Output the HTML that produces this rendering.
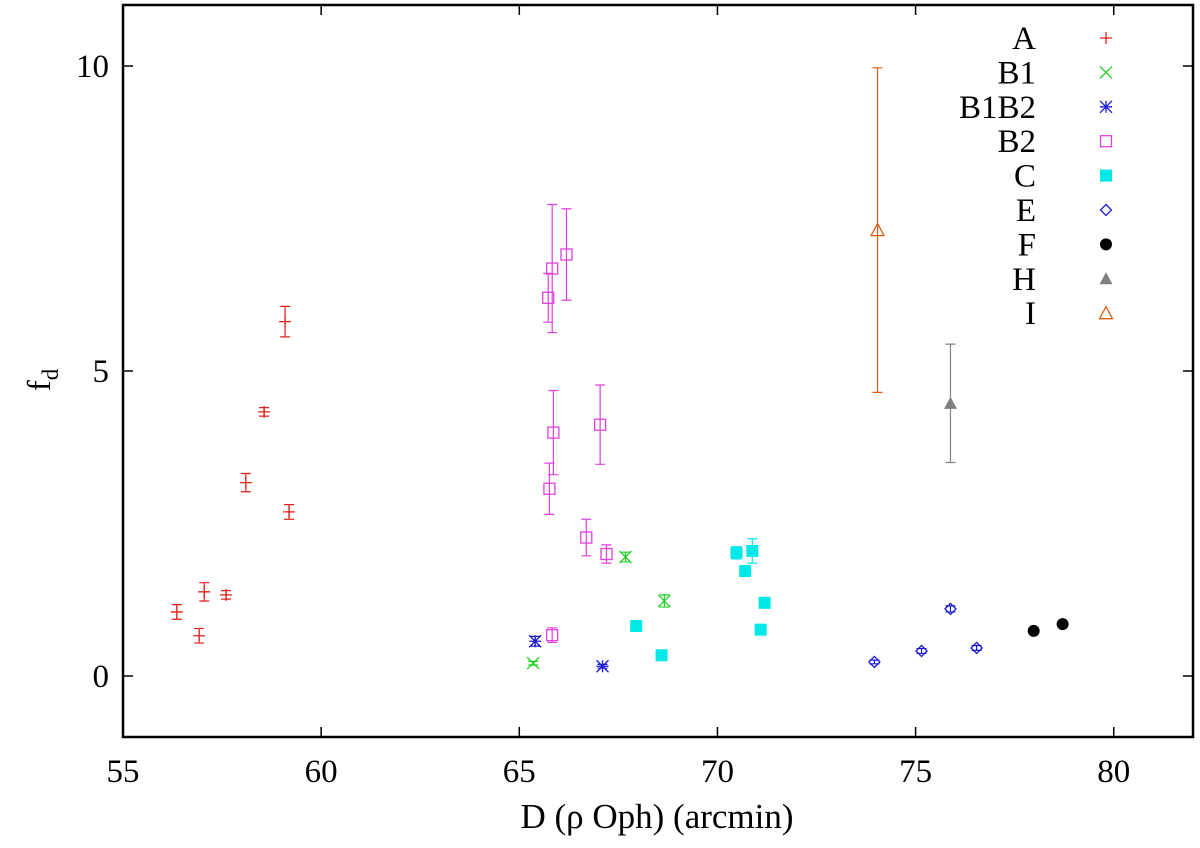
<!DOCTYPE html>
<html><head><meta charset="utf-8"><style>
html,body{margin:0;padding:0;background:#fff;}
svg{display:block;font-family:"Liberation Serif",serif;}
</style></head><body>
<svg id="chart" width="1200" height="848"></svg>
<script>
const xTicks=[55,60,65,70,75,80];
const yTicks=[0,5,10];
const seriesNames=["A","B1","B1B2","B2","C","E","F","H","I"];
const seriesColors=["#e0201b","#20d020","#1a1ad8","#e040e0","#00e8e8","#1a1ad8","#000000","#808080","#e05a10"];
const seriesSymbols=["plus","cross","star","sqopen","sqfill","diamond","circle","trifill","triopen"];
const xA=[56.36,56.92,57.05,57.6,58.1,58.56,59.09,59.19];
const yA=[1.05,0.66,1.38,1.33,3.17,4.33,5.81,2.69];
const eA=[0.12,0.12,0.15,0.07,0.15,0.07,0.25,0.12];
const xB1=[65.35,67.68,68.66];
const yB1=[0.21,1.95,1.23];
const eB1=[0.03,0.08,0.1];
const xB1B2=[65.4,67.1];
const yB1B2=[0.57,0.16];
const eB1B2=[0.08,0.03];
const xB2=[65.83,65.76,66.19,65.83,65.73,65.86,66.69,67.04,67.2];
const yB2=[0.67,3.07,6.91,6.68,6.2,3.99,2.27,4.12,2.0];
const eB2=[0.12,0.42,0.75,1.05,0.4,0.69,0.3,0.65,0.15];
const xC=[67.95,68.59,70.48,70.88,70.7,71.19,71.09];
const yC=[0.82,0.34,2.02,2.05,1.72,1.2,0.76];
const eC=[0,0,0.1,0.2,0,0,0];
const xE=[73.96,75.15,75.88,76.54];
const yE=[0.23,0.41,1.1,0.46];
const eE=[0.03,0.04,0.05,0.04];
const xF=[77.98,78.71];
const yF=[0.74,0.85];
const eF=[0,0];
const xH=[75.88];
const yH=[4.47];
const eH=[0.97];
const xI=[74.04];
const yI=[7.31];
const eI=[2.66];
const allX=[xA,xB1,xB1B2,xB2,xC,xE,xF,xH,xI];
const allY=[yA,yB1,yB1B2,yB2,yC,yE,yF,yH,yI];
const allE=[eA,eB1,eB1B2,eB2,eC,eE,eF,eH,eI];

const L=123,R=1193,T=5,B=737,xmin=55,xmax=82,ymin=-1,ymax=11;
const sx=v=>L+(v-xmin)/(xmax-xmin)*(R-L);
const sy=v=>B-(v-ymin)/(ymax-ymin)*(B-T);
const svg=document.getElementById('chart');
const NS="http://www.w3.org/2000/svg";
function mk(tag,attrs,parent){const e=document.createElementNS(NS,tag);for(const k in attrs)e.setAttribute(k,attrs[k]);(parent||svg).appendChild(e);return e;}

function symbol(type,cx,cy,color,g){
  const s=6;
  if(type==="plus"){mk('path',{d:`M${cx-s} ${cy}H${cx+s}M${cx} ${cy-s}V${cy+s}`,stroke:color,'stroke-width':1.3,fill:'none'},g);}
  else if(type==="cross"){mk('path',{d:`M${cx-s} ${cy-s}L${cx+s} ${cy+s}M${cx-s} ${cy+s}L${cx+s} ${cy-s}`,stroke:color,'stroke-width':1.3,fill:'none'},g);}
  else if(type==="star"){mk('path',{d:`M${cx-s} ${cy}H${cx+s}M${cx} ${cy-s}V${cy+s}M${cx-s} ${cy-s}L${cx+s} ${cy+s}M${cx-s} ${cy+s}L${cx+s} ${cy-s}`,stroke:color,'stroke-width':1.3,fill:'none'},g);}
  else if(type==="sqopen"){mk('rect',{x:cx-5.5,y:cy-5.5,width:11,height:11,stroke:color,'stroke-width':1.3,fill:'none'},g);}
  else if(type==="sqfill"){mk('rect',{x:cx-6,y:cy-6,width:12,height:12,fill:color},g);}
  else if(type==="diamond"){mk('path',{d:`M${cx} ${cy-5.5}L${cx+5.5} ${cy}L${cx} ${cy+5.5}L${cx-5.5} ${cy}Z`,stroke:color,'stroke-width':1.3,fill:'none'},g);}
  else if(type==="circle"){mk('circle',{cx:cx,cy:cy,r:6,fill:color},g);}
  else if(type==="trifill"){mk('path',{d:`M${cx} ${cy-6.5}L${cx+6.5} ${cy+5.5}L${cx-6.5} ${cy+5.5}Z`,fill:color},g);}
  else if(type==="triopen"){mk('path',{d:`M${cx} ${cy-6.5}L${cx+6.5} ${cy+5.5}L${cx-6.5} ${cy+5.5}Z`,stroke:color,'stroke-width':1.3,fill:'none'},g);}
}

const frame=mk('rect',{x:L,y:T,width:R-L,height:B-T,fill:'none',stroke:'#000','stroke-width':2.5});


xTicks.forEach(v=>{
  const x=sx(v);
  const t=mk('path',{d:`M${x} ${B}V${B-10}M${x} ${T}V${T+10}`,stroke:'#000','stroke-width':1.5});
  
  
  const lb=mk('text',{x:x,y:B+45,'text-anchor':'middle','font-size':33});
  lb.textContent=v;
  
  
});
yTicks.forEach(v=>{
  const y=sy(v);
  const t=mk('path',{d:`M${L} ${y}H${L+10}M${R} ${y}H${R-10}`,stroke:'#000','stroke-width':1.5});
  
  
  const lb=mk('text',{x:L-14,y:y+11,'text-anchor':'end','font-size':33});
  lb.textContent=v;
  
  
});
const xt=mk('text',{x:657,y:828,'text-anchor':'middle','font-size':35});
xt.textContent="D (ρ Oph) (arcmin)";


const yt=mk('text',{x:50,y:380,'text-anchor':'middle','font-size':33,transform:'rotate(-90 50 380)'});
yt.innerHTML='f<tspan font-size="23" dy="8">d</tspan>';



for(let i=0;i<seriesNames.length;i++){
  const g=mk('g',{});
  
  
  const c=seriesColors[i];
  for(let j=0;j<allX[i].length;j++){
    const cx=sx(allX[i][j]),cy=sy(allY[i][j]),e=allE[i][j];
    if(e>0){
      const y1=sy(allY[i][j]+e),y2=sy(allY[i][j]-e);
      mk('path',{d:`M${cx} ${y1}V${y2}M${cx-5} ${y1}H${cx+5}M${cx-5} ${y2}H${cx+5}`,stroke:c,'stroke-width':1.2,fill:'none'},g);
    }
    symbol(seriesSymbols[i],cx,cy,c,g);
  }
  const ly=38+i*34.4;
  const lg=mk('g',{});
  
  
  const lt=mk('text',{x:1036,y:ly+11,'text-anchor':'end','font-size':33},lg);
  lt.textContent=seriesNames[i];
  symbol(seriesSymbols[i],1106,ly,c,lg);
}
</script>
</body></html>
